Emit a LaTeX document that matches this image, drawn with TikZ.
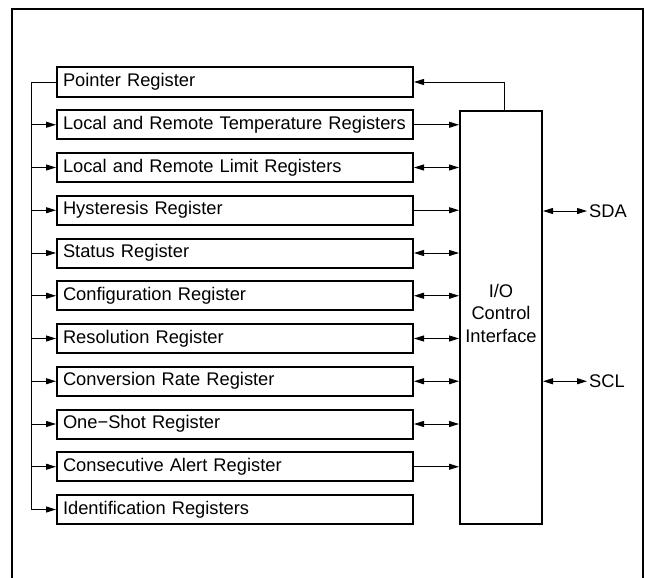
\documentclass[tikz,border=0pt]{standalone}
\usepackage{fontspec}
\setmainfont{Liberation Sans}
\usetikzlibrary{arrows.meta}

\begin{document}
\begin{tikzpicture}[x=1pt,y=-1pt,>={Triangle[length=10pt,width=6pt]},
    font=\fontsize{18.3}{22.5}\selectfont]

      \useasboundingbox (0,0) rectangle (645,578);
      \draw[line width=1.8pt] (12,578) -- (12,9) -- (643,9) -- (643,578);

      \begin{scope}[every node/.style={draw,line width=2pt,minimum height=29pt,
          text width=344pt,inner xsep=6pt,align=left}]
        \node (1)  at (235,82)     {Pointer Register};
        \node (2)  at (235,124.75) {Local and Remote Temperature Registers};
        \node (3)  at (235,167.5)  {Local and Remote Limit Registers};
        \node (4)  at (235,210.25) {Hysteresis Register};
        \node (5)  at (235,253)    {Status Register};
        \node (6)  at (235,295.75) {Configuration Register};
        \node (7)  at (235,338.5)  {Resolution Register};
        \node (8)  at (235,381.25) {Conversion Rate Register};
        \node (9)  at (235,424)    {One−Shot Register};
        \node (10) at (235,466.75) {Consecutive Alert Register};
        \node (11) at (235,509.5)  {Identification Registers};
      \end{scope}

      \node[draw,line width=2pt,minimum width=82pt,minimum height=413pt,align=center]
        (io) at (501,317.5) {I/O\\Control\\Interface\\[-14pt]};

      \node[anchor=west,inner sep=2pt] (sda) at (587,211)    {SDA};
      \node[anchor=west,inner sep=2pt] (scl) at (587,381.25) {SCL};

      \coordinate (bus1)  at (31,82);
      \coordinate (bus11) at (31,509.5);

      \begin{scope}[line width=1pt]

        \draw (1.west) -- (bus1) -- (bus11);
        \draw[->] ([xshift=3pt]io.north) |- (1.east);

        \begin{scope}[every edge/.style={draw,->}]
          \path (bus1 |- 2.west)  edge (2.west);
          \path (bus1 |- 3.west)  edge (3.west);
          \path (bus1 |- 4.west)  edge (4.west);
          \path (bus1 |- 5.west)  edge (5.west);
          \path (bus1 |- 6.west)  edge (6.west);
          \path (bus1 |- 7.west)  edge (7.west);
          \path (bus1 |- 8.west)  edge (8.west);
          \path (bus1 |- 9.west)  edge (9.west);
          \path (bus1 |- 10.west) edge (10.west);
          \path (bus1 |- 11.west) edge (11.west);
          \path (2.east)  edge (2.east -| io.west);
          \path (4.east)  edge (4.east -| io.west);
          \path (10.east) edge (10.east -| io.west);
        \end{scope}

        \begin{scope}[every edge/.style={draw,<->}]
          \path (3.east) edge (3.east -| io.west);
          \path (5.east) edge (5.east -| io.west);
          \path (6.east) edge (6.east -| io.west);
          \path (7.east) edge (7.east -| io.west);
          \path (8.east) edge (8.east -| io.west);
          \path (9.east) edge (9.east -| io.west);
          \path (io.east |- sda) edge (sda.west);
          \path (io.east |- scl) edge (scl.west);
        \end{scope}

      \end{scope}

    \end{tikzpicture}
\end{document}
